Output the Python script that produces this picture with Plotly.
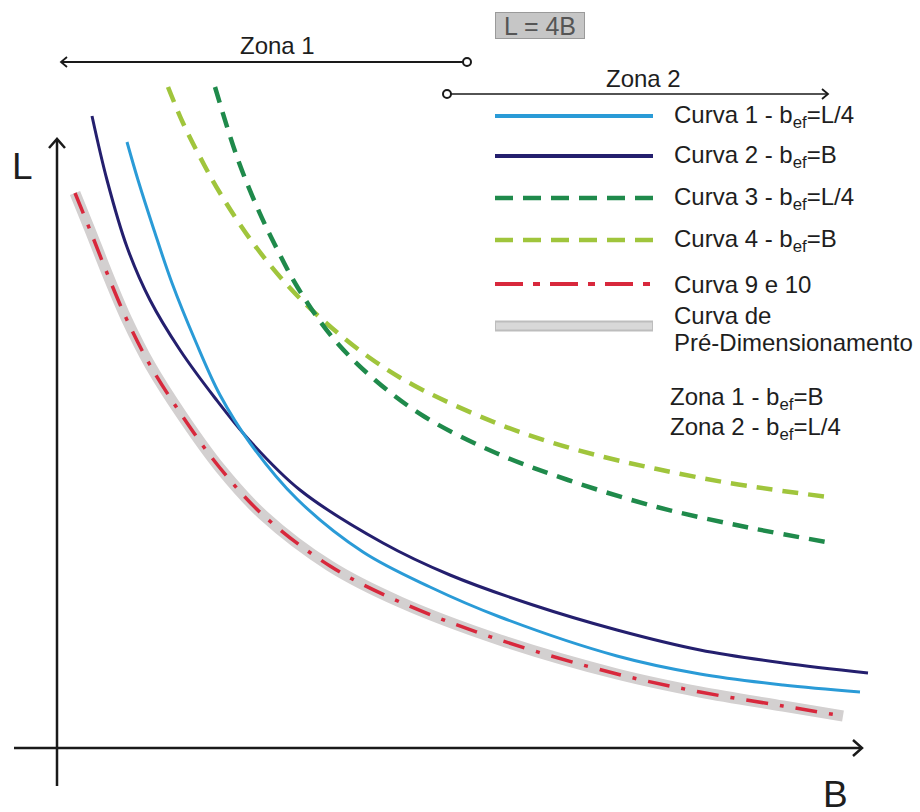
import plotly.graph_objects as go

# ---------------- data (B, L in arbitrary units) ----------------
c1_B = [6.9, 8.0, 9.6, 11.4, 13.7, 16.2, 19.2, 23.9, 30.5, 37.2, 44.2, 55.9, 64.2, 72.5, 80.2]
c1_L = [60.6, 56.8, 51.8, 46.5, 40.8, 35.3, 30.5, 24.9, 19.6, 16.1, 13.1, 9.2, 7.4, 6.3, 5.6]

c2_B = [3.4, 4.9, 6.9, 9.2, 12.2, 15.7, 19.2, 24.2, 32.5, 39.2, 47.5, 55.9, 64.2, 72.5, 81.0]
c2_L = [63.2, 56.8, 50.1, 44.8, 39.8, 35.0, 30.7, 25.8, 20.5, 17.3, 14.3, 11.8, 9.8, 8.5, 7.5]

c3_B = [15.7, 17.9, 19.9, 21.7, 24.0, 27.5, 31.7, 36.7, 43.8, 51.0, 59.9, 68.8, 77.4]
c3_L = [66.1, 59.1, 54.1, 50.3, 46.0, 41.0, 36.8, 33.1, 29.5, 26.8, 24.1, 22.1, 20.5]

c4_B = [11.0, 12.5, 14.2, 16.2, 19.5, 23.2, 26.7, 31.2, 35.7, 43.8, 49.2, 54.6, 59.9, 67.1, 77.0]
c4_L = [66.1, 62.5, 59.1, 55.5, 50.5, 46.0, 42.6, 39.0, 36.2, 32.5, 30.6, 29.1, 27.9, 26.5, 25.1]

c9_B = [1.7, 3.2, 4.9, 6.9, 9.2, 12.5, 16.2, 20.5, 27.2, 34.2, 44.2, 55.9, 64.2, 72.5, 78.5]
c9_L = [55.5, 51.8, 47.5, 42.8, 38.3, 33.1, 28.0, 23.3, 18.2, 14.6, 10.8, 7.4, 5.6, 4.2, 3.2]

legend_labels = [
    "Curva 1 - b<sub>ef</sub>=L/4",
    "Curva 2 - b<sub>ef</sub>=B",
    "Curva 3 - b<sub>ef</sub>=L/4",
    "Curva 4 - b<sub>ef</sub>=B",
    "Curva 9 e 10",
]
predim_label = ["Curva de", "Pré-Dimensionamento"]
zone_labels = ["Zona 1 - b<sub>ef</sub>=B", "Zona 2 - b<sub>ef</sub>=L/4"]

# ---------------- layout helpers (pixel -> axis units) ----------------
W, H = 920, 812
OX, OY, S = 58, 748, 10.0


def X(px):
    return (px - OX) / S


def Y(py):
    return (OY - py) / S


def path(points):
    return "M" + " L".join(f"{X(a):.2f},{Y(b):.2f}" for a, b in points)


FONT = "Liberation Sans, Arial, sans-serif"
TXT = "#1e1e1e"
FS = 24

col1, col2 = "#2a9bd7", "#241f6e"
col3, col4 = "#1f8a4b", "#a0c53c"
colr, colg = "#d8283c", "#d3d0d0"

fig = go.Figure()
spl = dict(shape="spline", smoothing=1.0)

fig.add_trace(go.Scatter(x=c9_B, y=c9_L, mode="lines", line=dict(color=colg, width=11, **spl), hoverinfo="skip"))
fig.add_trace(go.Scatter(x=c9_B, y=c9_L, mode="lines", line=dict(color=colr, width=3.5, dash="22px,12px,4px,12px", **spl)))
fig.add_trace(go.Scatter(x=c2_B, y=c2_L, mode="lines", line=dict(color=col2, width=3, **spl)))
fig.add_trace(go.Scatter(x=c1_B, y=c1_L, mode="lines", line=dict(color=col1, width=3, **spl)))
fig.add_trace(go.Scatter(x=c4_B, y=c4_L, mode="lines", line=dict(color=col4, width=4.5, dash="16px,10px", **spl)))
fig.add_trace(go.Scatter(x=c3_B, y=c3_L, mode="lines", line=dict(color=col3, width=4.5, dash="16px,10px", **spl)))

shapes = []
annos = []


def text(px, py, s, size=FS, **kw):
    d = dict(x=X(px), y=Y(py), text=s, showarrow=False, font=dict(family=FONT, size=size, color=kw.pop("color", TXT)))
    d.update(kw)
    annos.append(d)


# legend samples
rows = [116, 156, 198, 240, 284]
styles = [
    dict(color=col1, width=4),
    dict(color=col2, width=4),
    dict(color=col3, width=4.5, dash="18px,10px"),
    dict(color=col4, width=4.5, dash="18px,10px"),
    dict(color=colr, width=4, dash="28px,10px,7px,10px"),
]
for ry, st, lab in zip(rows, styles, legend_labels):
    shapes.append(dict(type="line", xref="x", yref="y", x0=X(495), x1=X(653), y0=Y(ry), y1=Y(ry), line=st))
    text(672, ry, lab, xanchor="left", yanchor="middle")
shapes.append(dict(type="line", xref="x", yref="y", x0=X(495), x1=X(653), y0=Y(326), y1=Y(326),
                   line=dict(color="#bdbdbd", width=11)))
shapes.append(dict(type="line", xref="x", yref="y", x0=X(496), x1=X(652), y0=Y(326), y1=Y(326),
                   line=dict(color="#d8d8d8", width=7)))
text(672, 315, predim_label[0], xanchor="left", yanchor="middle")
text(672, 342, predim_label[1], xanchor="left", yanchor="middle")
for zy, zl in zip([398, 428], zone_labels):
    text(668, zy, zl, xanchor="left", yanchor="middle")

# axes with open arrow heads
AX = "#1a1a1a"
shapes.append(dict(type="line", xref="x", yref="y", x0=X(57), x1=X(57), y0=Y(786), y1=Y(140),
                   line=dict(color=AX, width=2.5)))
shapes.append(dict(type="path", xref="x", yref="y", path=path([(49, 148), (57, 139), (65, 148)]),
                   line=dict(color=AX, width=2.5)))
shapes.append(dict(type="line", xref="x", yref="y", x0=X(14), x1=X(861), y0=Y(748), y1=Y(748),
                   line=dict(color=AX, width=2.5)))
shapes.append(dict(type="path", xref="x", yref="y", path=path([(853, 740), (862, 748), (853, 756)]),
                   line=dict(color=AX, width=2.5)))
text(22, 166, "L", size=37)
text(835, 794, "B", size=37)

# zone arrows
shapes.append(dict(type="line", xref="x", yref="y", x0=X(61), x1=X(463), y0=Y(62), y1=Y(62),
                   line=dict(color=AX, width=1.8)))
shapes.append(dict(type="path", xref="x", yref="y", path=path([(67, 57), (61, 62), (67, 67)]),
                   line=dict(color=AX, width=1.8)))
shapes.append(dict(type="line", xref="x", yref="y", x0=X(451), x1=X(828), y0=Y(94), y1=Y(94),
                   line=dict(color=AX, width=1.5)))
shapes.append(dict(type="path", xref="x", yref="y", path=path([(822, 89), (828, 94), (822, 99)]),
                   line=dict(color=AX, width=1.8)))
for cx, cy in [(467, 62), (447, 94)]:
    shapes.append(dict(type="circle", xref="x", yref="y", x0=X(cx - 4), x1=X(cx + 4), y0=Y(cy + 4), y1=Y(cy - 4),
                       line=dict(color=AX, width=2), fillcolor="white"))
text(277, 45, "Zona 1")
text(643, 78, "Zona 2")

# L = 4B box
text(540, 25, "L = 4B", size=25, color="#555555", bgcolor="#c6c6c6", bordercolor="#9a9a9a",
     borderwidth=1, borderpad=0, width=88, height=25)

fig.update_layout(
    width=W, height=H, margin=dict(l=0, r=0, t=0, b=0),
    paper_bgcolor="white", plot_bgcolor="white", showlegend=False,
    xaxis=dict(range=[X(0), X(W)], visible=False, fixedrange=True),
    yaxis=dict(range=[Y(H), Y(0)], visible=False, fixedrange=True),
    shapes=shapes, annotations=annos,
)

fig.write_html("out.html", config={"displayModeBar": False},
               post_script="document.body.style.margin='0';")
